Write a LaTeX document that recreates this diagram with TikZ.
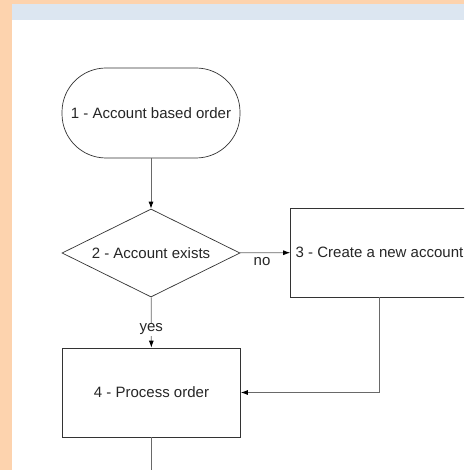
\documentclass[tikz,border=0pt]{standalone}
\usepackage{fontspec}
\setmainfont{Liberation Sans}
\usetikzlibrary{shapes.geometric,arrows.meta}
\definecolor{bgorange}{RGB}{253,211,174}
\definecolor{bandblue}{RGB}{220,230,241}
\definecolor{linegray}{RGB}{105,105,105}
\begin{document}
\begin{tikzpicture}[x=1pt,y=-1pt,
  every node/.style={font=\fontsize{15}{17}\selectfont, text=black!85},
  term/.style={draw=black!80, line width=0.7pt, rectangle, rounded corners=44pt, minimum width=178pt, minimum height=90pt, inner sep=0pt},
  decision/.style={draw=black!80, line width=0.7pt, diamond, aspect=2, minimum width=178pt, minimum height=88pt, inner sep=0pt},
  proc/.style={draw=black!80, line width=0.7pt, rectangle, minimum width=178pt, minimum height=89pt, inner sep=0pt},
  conn/.style={draw=linegray, line width=0.8pt, -{Latex[length=7pt,width=5pt,black]}},
  plain/.style={draw=linegray, line width=0.8pt},
  lbl/.style={font=\fontsize{15}{17}\selectfont, inner sep=1pt}]
\useasboundingbox (0,0) rectangle (464,470);
\clip (0,0) rectangle (464,470);
\fill[bgorange] (0,0) rectangle (464,470);
\fill[bandblue] (12,4) rectangle (464,20);
\fill[white] (12,20) rectangle (464,470);

\node[term] (n1) at (151,113) {1 - Account based order};
\node[decision] (n2) at (151,253) {2 - Account exists};
\node[proc] (n3) at (379.5,252.5) {3 - Create a new account};
\node[proc] (n4) at (151.5,392.5) {4 - Process order};
\coordinate (end) at (151.5,475);

\draw[conn] (n1) -- (n2);
\draw[conn] (n2) -- node[lbl, below=3pt, pos=0.44] {no} (n3);
\draw[conn] (n2) -- node[lbl, fill=white, pos=0.64] {yes} (n4);
\draw[conn] (n3.south) |- (n4.east);
\draw[plain] (n4) -- (end);
\end{tikzpicture}
\end{document}
